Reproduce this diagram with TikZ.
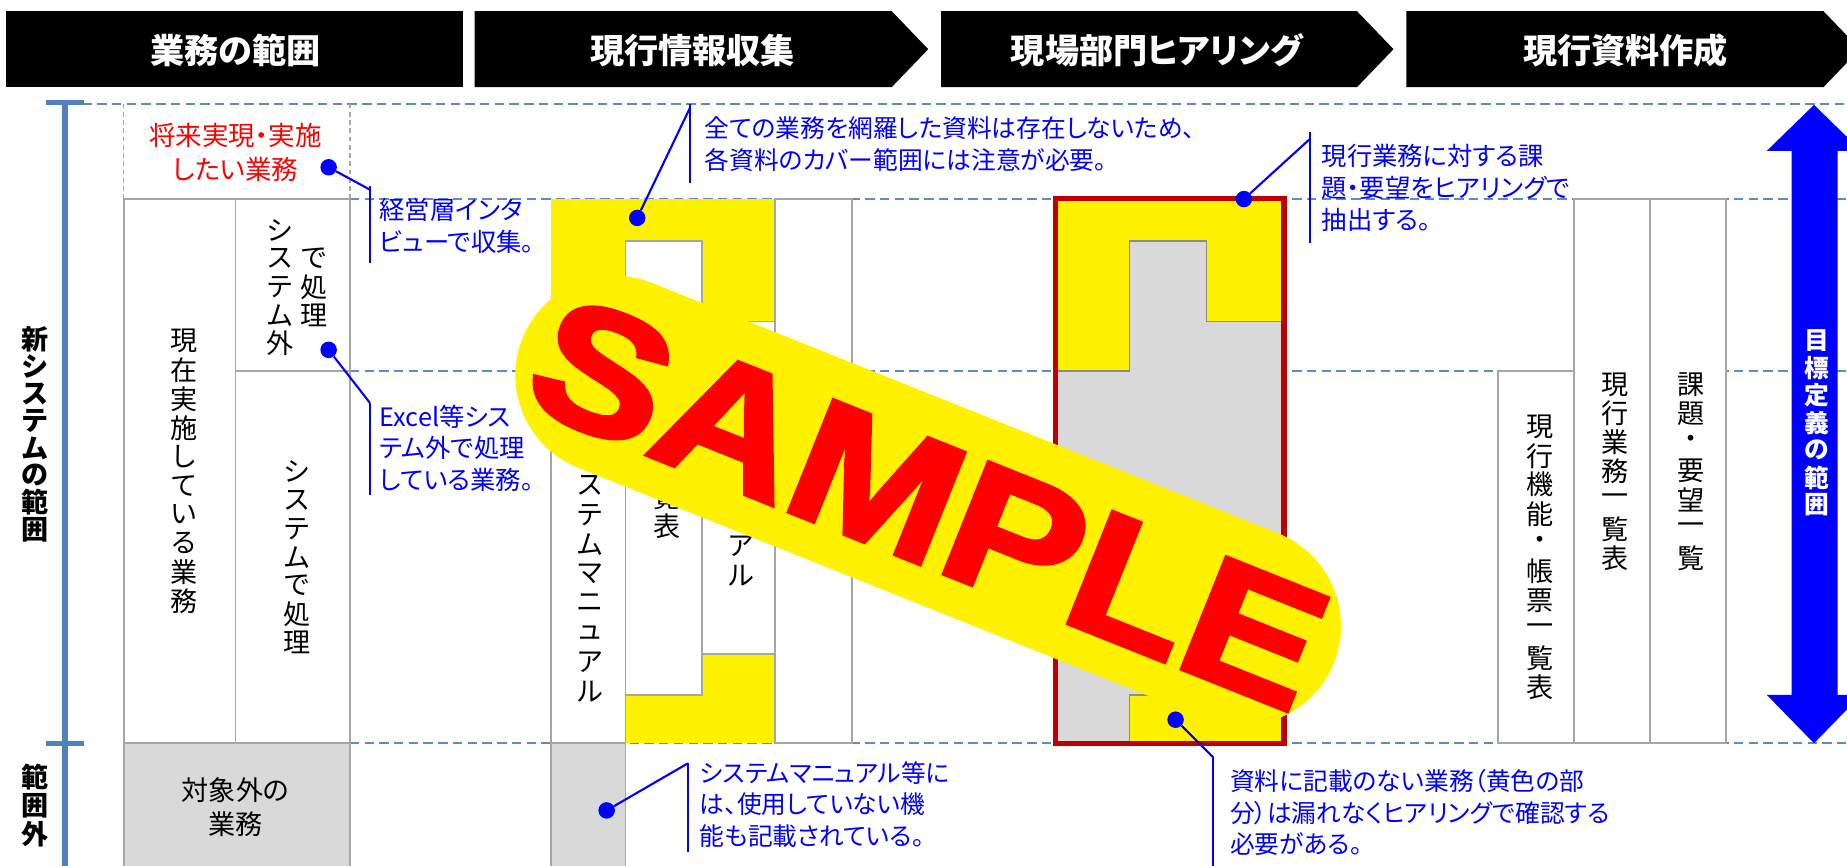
\documentclass[tikz,border=0pt]{standalone}
\usepackage{fontspec}
\setmainfont{Noto Sans CJK JP}
\newfontfamily\jpp{Noto Sans CJK JP}[RawFeature=+palt]
\newfontfamily\sampfont{Liberation Sans}[BoldFeatures={FakeBold=2.5}]
\definecolor{dashblue}{RGB}{91,139,200}
\definecolor{axisblue}{RGB}{79,129,189}
\definecolor{boxgray}{RGB}{166,166,166}
\definecolor{edgegray}{RGB}{140,140,140}
\definecolor{fillgray}{RGB}{217,217,217}
\definecolor{darkred}{RGB}{192,0,0}
\definecolor{textblue}{RGB}{0,0,255}
\makeatletter
\newcommand\vstack[2]{\vbox{\offinterlineskip\@tfor\vs@c:=#2\do{\hbox to 1.1em{\hss\vbox to #1{\vss\hbox{\vs@c}\vss}\hss}}}}
\makeatother
\tikzset{
  gbox/.style={draw=boxgray, line width=1.5pt, fill=white},
  dline/.style={draw=dashblue, line width=1.7pt, dash pattern=on 8pt off 4.5pt},
  lead/.style={draw=textblue, line width=1.8pt},
  dotn/.style={circle, fill=textblue, inner sep=0pt, minimum size=14pt},
  callout/.style={text=textblue, font=\jpp\fontsize{21.5}{27}\selectfont, align=left, anchor=west, inner sep=0pt},
  vt/.style={inner sep=0pt, font=\fontsize{23}{23}\selectfont},
  vtb/.style={inner sep=0pt, font=\bfseries\fontsize{23}{23}\selectfont},
  hdr/.style={text=white, font=\jpp\bfseries\fontsize{29}{29}\selectfont, inner sep=0pt},
}
\begin{document}
\begin{tikzpicture}[x=1pt, y=-1pt]
\useasboundingbox (0,0) rectangle (1568,735);
\clip (0,0) rectangle (1568,735);
\fill[white] (0,0) rectangle (1568,735);

% header
\fill[black] (5,9.5) rectangle (393,74);
\fill[black] (403,9.5) -- (757,9.5) -- (788,41.75) -- (757,74) -- (403,74) -- cycle;
\fill[black] (799,9.5) -- (1152,9.5) -- (1183,41.75) -- (1152,74) -- (799,74) -- cycle;
\fill[black] (1194,9.5) -- (1548,9.5) -- (1579,41.75) -- (1548,74) -- (1194,74) -- cycle;
\node[hdr] (h1) at (200,43) {業務の範囲};
\node[hdr] (h2) at (588,43) {現行情報収集};
\node[hdr] (h3) at (982,43) {現場部門ヒアリング};
\node[hdr] (h4) at (1380,43) {現行資料作成};

% dashed guide lines
\draw[dline] (70,88) -- (1568,88);
\draw[dline] (297,169) -- (1568,169);
\draw[dline] (297,315) -- (1568,315);
\draw[dline] (297,631) -- (1568,631);

% group 1
\draw[boxgray, line width=1.2pt, dash pattern=on 4pt off 3pt] (105,169) -- (105,88);
\draw[boxgray, line width=1.2pt, dash pattern=on 4pt off 3pt] (297,169) -- (297,88);
\draw[gbox] (105,169) rectangle (200,631);
\draw[gbox] (200,169) rectangle (297,315);
\draw[gbox] (200,315) rectangle (297,631);
\draw[gbox, fill=fillgray] (105,631) rectangle (297,745);
\node[text=red, font=\jpp\fontsize{22.5}{29}\selectfont, align=center, inner sep=0pt] (fut) at (200,129.5) {将来実現・実施\\したい業務};
\node[vt] (g1a) at (156,400) {\vstack{24.5pt}{現在実施している業務}};
\node[vt] (g1b) at (238,243.5) {\vstack{24pt}{システム外}};
\node[vt] (g1c) at (267,243.5) {\vstack{24pt}{で処理}};
\node[vt] (g1d) at (252,473) {\vstack{24.2pt}{システムで処理}};
\node[font=\jpp\fontsize{23}{29}\selectfont, align=center, inner sep=0pt] (g1e) at (200,685.5) {対象外の\\業務};

% group 2
\fill[yellow] (468,169) rectangle (658,631);
\draw[gbox] (468,315) rectangle (531,631);
\draw[gbox, fill=fillgray] (468,631) rectangle (531,745);
\draw[gbox] (531,204.5) rectangle (596,590);
\draw[gbox] (596,273) rectangle (658,555);
\draw[gbox] (658,169) rectangle (723,631);
\node[vt] (g2a) at (501,487) {\vstack{25pt}{システムマニュアル}};
\node[vt] (g2b) at (566,397) {\vstack{25pt}{機能一覧表}};
\node[vt] (g2c) at (629,414) {\vstack{25pt}{業務マニュアル}};

% group 3
\fill[yellow] (896,168.5) rectangle (1090,631);
\draw[draw=edgegray, fill=fillgray, line width=1.2pt] (896,315) -- (959,315) -- (959,204.5) -- (1024,204.5) -- (1024,273) -- (1090,273) -- (1090,555) -- (1024,555) -- (1024,590) -- (959,590) -- (959,631) -- (896,631) -- cycle;
\draw[darkred, line width=4.5pt] (896,168.5) rectangle (1090,631);

% group 4
\draw[gbox] (1272,315) rectangle (1336,631);
\draw[gbox] (1336,169) rectangle (1401,631);
\draw[gbox] (1401,169) rectangle (1465,631);
\node[vt] (g4a) at (1307,473) {\vstack{24.6pt}{現行機能・帳票一覧表}};
\node[vt] (g4b) at (1371,400) {\vstack{24.5pt}{現行業務一覧表}};
\node[vt] (g4c) at (1436,400) {\vstack{24.5pt}{課題・要望一覧}};

% target arrow
\fill[textblue] (1540,89) -- (1580,128) -- (1560,128) -- (1560,590) -- (1580,590) -- (1540,631) -- (1500,590) -- (1521,590) -- (1521,128) -- (1500,128) -- cycle;
\node[inner sep=0pt, text=white, font=\bfseries\fontsize{21}{21}\selectfont] (tgt) at (1542,359) {\vstack{23.2pt}{目標定義の範囲}};

% left axis
\draw[axisblue, line width=5pt] (55,86) -- (55,740);
\draw[axisblue, line width=4.5pt] (39,87) -- (71,87);
\draw[axisblue, line width=4.5pt] (39,631) -- (71,631);
\node[vtb] (lab1) at (30,369) {\vstack{23pt}{新システムの範囲}};
\node[vtb] (lab2) at (30,684) {\vstack{24pt}{範囲外}};

% SAMPLE stamp
\node[fill=yellow, rounded corners=84.6pt, minimum width=742pt, minimum height=169pt, rotate=-21.8, inner sep=0pt] (stamp) at (788,425) {};
\node[rotate=-21.8, text=red, font=\sampfont\bfseries\fontsize{148}{148}\selectfont, text height=106pt, text depth=0pt, inner sep=0pt] (samp) at (789,425) {\scalebox{1.15}[1]{SAMPLE}};

% callouts
\node[dotn] (d1) at (279,142) {};
\coordinate (k1) at (314,161);
\coordinate (b1t) at (314,158);
\coordinate (b1b) at (314,223);
\draw[lead] (d1) -- (k1);
\draw[lead] (b1t) -- (b1b);
\node[callout] (t1) at (322,191.5) {経営層インタ\\ビューで収集。};

\node[dotn] (d2) at (279,297) {};
\coordinate (k2) at (314,342);
\coordinate (b2b) at (314,420);
\draw[lead] (d2) -- (k2);
\draw[lead] (k2) -- (b2b);
\node[callout] (t2) at (322,380.5) {Excel等シス\\テム外で処理\\している業務。};

\node[dotn] (d3) at (541,185) {};
\coordinate (k3) at (586,91);
\coordinate (b3t) at (586,88);
\coordinate (b3b) at (586,155);
\draw[lead] (d3) -- (k3);
\draw[lead] (b3t) -- (b3b);
\node[callout, font=\jpp\fontsize{21}{27}\selectfont] (t3) at (598,122.5) {全ての業務を網羅した資料は存在しないため、\\各資料のカバー範囲には注意が必要。};

\node[dotn] (d4) at (515,688) {};
\coordinate (k4) at (584,648);
\coordinate (b4b) at (584,723);
\draw[lead] (d4) -- (k4);
\draw[lead] (k4) -- (b4b);
\node[callout, font=\jpp\fontsize{21}{27}\selectfont] (t4) at (594,683) {システムマニュアル等に\\は、使用していない機\\能も記載されている。};

\node[dotn] (d5) at (1056,169) {};
\coordinate (k5) at (1112,118);
\coordinate (b5t) at (1112,112);
\coordinate (b5b) at (1112,206);
\draw[lead] (d5) -- (k5);
\draw[lead] (b5t) -- (b5b);
\node[callout] (t5) at (1122,159.7) {現行業務に対する課\\題・要望をヒアリングで\\抽出する。};

\node[dotn] (d6) at (998,611) {};
\coordinate (k6) at (1030,643);
\coordinate (b6b) at (1030,740);
\draw[lead] (d6) -- (k6);
\draw[lead] (k6) -- (b6b);
\node[callout, font=\jpp\fontsize{21}{27}\selectfont] (t6) at (1044,689.7) {資料に記載のない業務（黄色の部\\分）は漏れなくヒアリングで確認する\\必要がある。};
\end{tikzpicture}
\end{document}
